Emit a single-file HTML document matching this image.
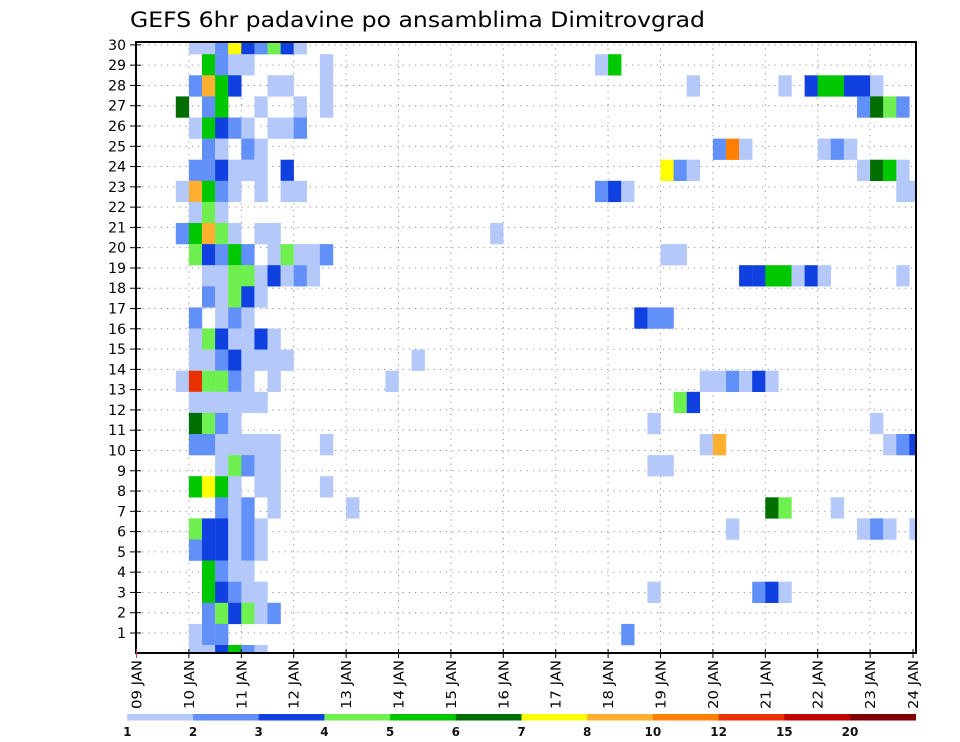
<!DOCTYPE html>
<html><head><meta charset="utf-8"><title>GEFS 6hr padavine</title>
<style>
html,body{margin:0;padding:0;background:#fff;}
svg{display:block;font-family:"DejaVu Sans","Liberation Sans",sans-serif;}
</style></head>
<body>
<svg id="chart" width="960" height="742" viewBox="0 0 960 742" xmlns="http://www.w3.org/2000/svg">
<text x="130" y="27" font-size="21" textLength="575" lengthAdjust="spacingAndGlyphs" fill="#000">GEFS 6hr padavine po ansamblima Dimitrovgrad</text>
<defs><clipPath id="plotclip"><rect x="136" y="42" width="780" height="611"/></clipPath></defs>
<g id="grid"></g>
<g id="cells" clip-path="url(#plotclip)"></g>
<g id="axes"></g>
<g id="colorbar"></g>
</svg>
<script>
// ---- data ----
const dayLabels = ["09 JAN","10 JAN","11 JAN","12 JAN","13 JAN","14 JAN","15 JAN","16 JAN","17 JAN","18 JAN","19 JAN","20 JAN","21 JAN","22 JAN","23 JAN","24 JAN"];
const memberLabels = [1,2,3,4,5,6,7,8,9,10,11,12,13,14,15,16,17,18,19,20,21,22,23,24,25,26,27,28,29,30];
const levelBounds = [1,2,3,4,5,6,7,8,10,12,15,20,30];
const levelLabels = ["1","2","3","4","5","6","7","8","10","12","15","20"];
const levelColors = ["#b4c8fa","#6090f8","#1040e0","#70f050","#00c800","#006e00","#ffff00","#ffb030","#ff8000","#e83000","#c00000","#800000"];
// cells: time step (6h index from 09 JAN), member row, precipitation mm
const cellTime = [
4,5,6,7,8,9,10,11,12,
5,6,7,8,14,35,36,
4,5,6,7,10,11,14,42,49,51,52,53,54,55,56,
3,5,6,9,12,14,55,56,57,58,
4,5,6,7,8,10,11,12,
5,6,8,9,44,45,46,52,53,54,
4,5,6,7,8,9,11,40,41,42,55,56,57,58,
3,4,5,6,7,9,11,12,35,36,37,58,59,
4,5,6,
3,4,5,6,7,9,10,27,
4,5,6,7,8,10,11,12,13,14,40,41,
5,6,7,8,9,10,11,12,13,46,47,48,49,50,51,52,58,
5,6,7,8,9,
4,6,7,8,38,39,40,
4,5,6,7,8,9,10,
4,5,6,7,8,9,10,11,21,
3,4,5,6,7,8,10,19,43,44,45,46,47,48,
4,5,6,7,8,9,41,42,
4,5,6,7,39,56,
4,5,6,7,8,9,10,14,43,44,57,58,59,
6,7,8,9,10,39,40,
4,5,6,7,9,10,14,
6,7,8,10,16,48,49,53,
4,5,6,7,8,9,45,55,56,57,59,
4,5,6,7,8,9,
5,6,7,8,
5,6,7,8,9,39,47,48,49,
5,6,7,8,9,10,
4,5,6,37,
4,5,6,7,8,9];
const cellMember = [
29,29,29,29,29,29,29,29,29,
28,28,28,28,28,28,28,
27,27,27,27,27,27,27,27,27,27,27,27,27,27,27,
26,26,26,26,26,26,26,26,26,26,
25,25,25,25,25,25,25,25,
24,24,24,24,24,24,24,24,24,24,
23,23,23,23,23,23,23,23,23,23,23,23,23,23,
22,22,22,22,22,22,22,22,22,22,22,22,22,
21,21,21,
20,20,20,20,20,20,20,20,
19,19,19,19,19,19,19,19,19,19,19,19,
18,18,18,18,18,18,18,18,18,18,18,18,18,18,18,18,18,
17,17,17,17,17,
16,16,16,16,16,16,16,
15,15,15,15,15,15,15,
14,14,14,14,14,14,14,14,14,
13,13,13,13,13,13,13,13,13,13,13,13,13,13,
12,12,12,12,12,12,12,12,
11,11,11,11,11,11,
10,10,10,10,10,10,10,10,10,10,10,10,10,
9,9,9,9,9,9,9,
8,8,8,8,8,8,8,
7,7,7,7,7,7,7,7,
6,6,6,6,6,6,6,6,6,6,6,
5,5,5,5,5,5,
4,4,4,4,
3,3,3,3,3,3,3,3,3,
2,2,2,2,2,2,
1,1,1,1,
0,0,0,0,0,0];
const cellPrecip = [
1.5,1.5,2.5,7.5,3.5,2.5,4.5,3.5,1.5,
5.5,2.5,1.5,1.5,1.5,1.5,5.5,
2.5,9,5.5,3.5,1.5,1.5,1.5,1.5,1.5,3.5,5.5,5.5,3.5,3.5,1.5,
6.5,2.5,5.5,1.5,1.5,1.5,2.5,6.5,4.5,2.5,
1.5,5.5,3.5,2.5,1.5,1.5,1.5,2.5,
2.5,1.5,2.5,1.5,2.5,11,1.5,1.5,2.5,1.5,
2.5,2.5,3.5,1.5,1.5,1.5,3.5,7.5,2.5,1.5,1.5,6.5,5.5,1.5,
1.5,9,5.5,2.5,1.5,1.5,1.5,1.5,2.5,3.5,1.5,1.5,1.5,
1.5,4.5,1.5,
2.5,5.5,9,4.5,1.5,1.5,1.5,1.5,
4.5,3.5,2.5,5.5,2.5,1.5,4.5,1.5,1.5,2.5,1.5,1.5,
1.5,1.5,4.5,4.5,1.5,3.5,1.5,2.5,1.5,3.5,3.5,5.5,5.5,1.5,3.5,1.5,1.5,
2.5,1.5,4.5,3.5,1.5,
2.5,1.5,2.5,1.5,3.5,2.5,2.5,
1.5,4.5,3.5,1.5,1.5,3.5,1.5,
1.5,1.5,2.5,3.5,1.5,1.5,1.5,1.5,1.5,
1.5,13,4.5,4.5,2.5,1.5,1.5,1.5,1.5,1.5,2.5,1.5,3.5,1.5,
1.5,1.5,1.5,1.5,1.5,1.5,4.5,3.5,
6.5,4.5,2.5,1.5,1.5,1.5,
2.5,2.5,1.5,1.5,1.5,1.5,1.5,1.5,1.5,9,1.5,2.5,3.5,
1.5,4.5,2.5,1.5,1.5,1.5,1.5,
5.5,7.5,5.5,1.5,1.5,1.5,1.5,
2.5,1.5,2.5,1.5,1.5,6.5,4.5,1.5,
4.5,3.5,3.5,1.5,2.5,1.5,1.5,1.5,2.5,1.5,1.5,
2.5,3.5,3.5,1.5,2.5,1.5,
5.5,2.5,1.5,1.5,
5.5,3.5,2.5,1.5,1.5,1.5,2.5,3.5,1.5,
2.5,4.5,3.5,4.5,1.5,2.5,
1.5,2.5,2.5,2.5,
1.5,1.5,3.5,5.5,2.5,1.5];

// ---- scales ----
const NS = "http://www.w3.org/2000/svg";
const PX0 = 136.5, STEP = 13.1, DAY = STEP * 4;
const PLOT_L = 136, PLOT_R = 916, PLOT_T = 42, PLOT_B = 653;
function xScale(t){ return PX0 + STEP * t; }
function xDay(d){ return Math.min(PX0 + DAY * d, PLOT_R - 3); }
function yCellTop(m){ return 645 - 21.1 * m; }
function yLabel(n){ return 633 - (n - 1) * 20.28; }
function colorFor(v){
  for (let k = 0; k < levelColors.length; k++) if (v < levelBounds[k + 1]) return levelColors[k];
  return levelColors[levelColors.length - 1];
}
function mk(tag, attrs, parent){
  const e = document.createElementNS(NS, tag);
  for (const a in attrs) e.setAttribute(a, attrs[a]);
  parent.appendChild(e);
  return e;
}

// ---- grid ----
const grid = document.getElementById('grid');
memberLabels.forEach(function(n){
  const y = yLabel(n);
  const l = mk('line', {x1: PLOT_L, x2: PLOT_R, y1: y, y2: y, stroke: '#909090', 'stroke-width': 1, 'stroke-dasharray': '1.2 5'}, grid);
  
  
});
dayLabels.forEach(function(lbl, d){
  const x = PX0 + DAY * d;
  if (x > PLOT_R - 2) return;
  const l = mk('line', {x1: x, x2: x, y1: PLOT_T, y2: PLOT_B, stroke: '#909090', 'stroke-width': 1, 'stroke-dasharray': '1.2 5'}, grid);
  
  
});

// ---- cells ----
const cells = document.getElementById('cells');
for (let k = 0; k < cellPrecip.length; k++){
  const r = mk('rect', {x: xScale(cellTime[k]), y: yCellTop(cellMember[k]), width: STEP + 0.2, height: 21.3, fill: colorFor(cellPrecip[k])}, cells);
  
  
}

// ---- axes ----
const axes = document.getElementById('axes');
const frame = mk('rect', {x: PLOT_L, y: PLOT_T, width: PLOT_R - PLOT_L, height: PLOT_B - PLOT_T, fill: 'none', stroke: '#000', 'stroke-width': 2}, axes);


memberLabels.forEach(function(n){
  const y = yLabel(n);
  const t = mk('line', {x1: PLOT_L - 6, x2: PLOT_L + 5, y1: y, y2: y, stroke: '#000', 'stroke-width': 1}, axes);
  
  
  const tx = mk('text', {x: 126, y: y + 5, 'font-size': 14, 'text-anchor': 'end', fill: '#000'}, axes);
  tx.textContent = n;
  
  
});
dayLabels.forEach(function(lbl, d){
  const x = xDay(d);
  const t = mk('line', {x1: x, x2: x, y1: PLOT_B - 4, y2: PLOT_B + 5, stroke: d === 0 ? '#c04040' : '#000', 'stroke-width': 1}, axes);
  
  
  const tx = mk('text', {x: 0, y: 0, 'font-size': 13, 'text-anchor': 'end', fill: '#000', transform: 'translate(' + (x + 5) + ',660) rotate(-90)', textLength: 49, lengthAdjust: 'spacingAndGlyphs'}, axes);
  tx.textContent = lbl;
  
  
});

// ---- colorbar ----
const cb = document.getElementById('colorbar');
const CB_X = 127.3, CB_W = 65.7;
levelColors.forEach(function(c, k){
  const r = mk('rect', {x: CB_X + CB_W * k, y: 714, width: CB_W + 0.3, height: 6.5, fill: c}, cb);
  
  
});
levelLabels.forEach(function(lbl, k){
  const tx = mk('text', {x: CB_X + CB_W * k, y: 736, 'font-size': 12, 'font-weight': 'bold', 'text-anchor': 'middle', fill: '#111'}, cb);
  tx.textContent = lbl;
  
  
});
</script>
</body></html>
